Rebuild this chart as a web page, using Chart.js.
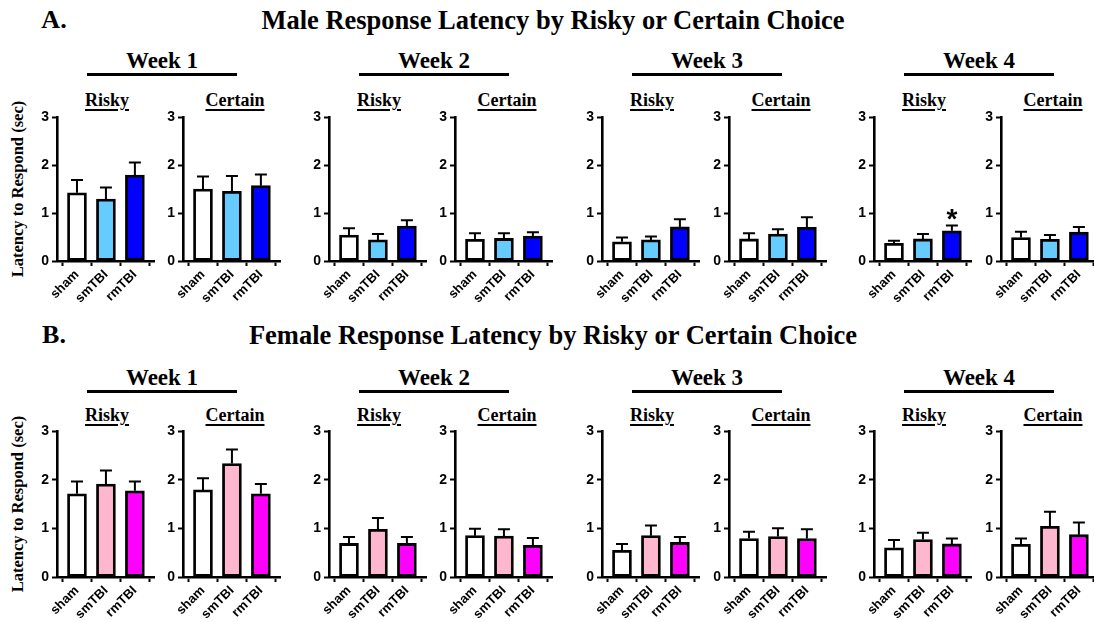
<!DOCTYPE html>
<html>
<head>
<meta charset="utf-8">
<script src="https://cdn.jsdelivr.net/npm/chart.js@4.4.0/dist/chart.umd.min.js"></script>
<style>
body { margin:0; width:1094px; height:622px; overflow:hidden; background:#fff; position:relative; font-family:'Liberation Serif', 'Times New Roman', serif; }
.t { position:absolute; font-weight:bold; color:#000; white-space:nowrap; transform:translate(-50%,-50%); line-height:1; }
.sub { text-decoration:underline; text-decoration-thickness:2px; text-underline-offset:3px; }
.bar { position:absolute; height:3px; background:#000; }
canvas { position:absolute; }
</style>
</head>
<body>
<script>
const groups = ['sham', 'smTBI', 'rmTBI']
const weeks = ['Week 1', 'Week 2', 'Week 3', 'Week 4']
const choices = ['Risky', 'Certain']

// mean latency per week, order: sham, smTBI, rmTBI
const maleRiskyMean = [[1.42, 1.29, 1.79], [0.54, 0.44, 0.73], [0.40, 0.44, 0.71], [0.37, 0.46, 0.63]]
const maleRiskySem = [[0.27, 0.24, 0.26], [0.14, 0.12, 0.12], [0.09, 0.07, 0.16], [0.05, 0.10, 0.11]]
const maleCertainMean = [[1.50, 1.45, 1.57], [0.45, 0.47, 0.52], [0.46, 0.56, 0.70], [0.49, 0.45, 0.60]]
const maleCertainSem = [[0.26, 0.32, 0.23], [0.13, 0.11, 0.08], [0.12, 0.10, 0.21], [0.12, 0.09, 0.11]]
const femaleRiskyMean = [[1.71, 1.91, 1.77], [0.69, 0.98, 0.69], [0.55, 0.85, 0.71], [0.60, 0.77, 0.68]]
const femaleRiskySem = [[0.25, 0.28, 0.19], [0.13, 0.23, 0.13], [0.13, 0.21, 0.11], [0.16, 0.14, 0.11]]
const femaleCertainMean = [[1.79, 2.33, 1.71], [0.85, 0.84, 0.65], [0.79, 0.83, 0.79], [0.67, 1.04, 0.87]]
const femaleCertainSem = [[0.24, 0.29, 0.20], [0.14, 0.14, 0.15], [0.14, 0.17, 0.19], [0.12, 0.30, 0.25]]
// significance marks (only male week 4 risky rmTBI)
const maleRiskySig = [['', '', ''], ['', '', ''], ['', '', ''], ['', '', '*']]
const noSig = ['', '', '']

const maleColors = ['#ffffff', '#66ccff', '#0000ff']
const femaleColors = ['#ffffff', '#ffb6cf', '#ff00ff']

// x position of each panel's y axis
const axisX = [57, 183, 329, 455, 602, 729, 874, 1001]
const weekX = [162, 434, 707, 979]

const sections = [
    { label: 'A.', title: 'Male Response Latency by Risky or Certain Choice', titleY: 20, weekY: 60, lineY: 74, choiceY: 100, top: 117, zero: 261,
      mean: [maleRiskyMean, maleCertainMean], sem: [maleRiskySem, maleCertainSem], sig: [maleRiskySig, null], colors: maleColors },
    { label: 'B.', title: 'Female Response Latency by Risky or Certain Choice', titleY: 335, weekY: 377, lineY: 391, choiceY: 415, top: 431, zero: 577,
      mean: [femaleRiskyMean, femaleCertainMean], sem: [femaleRiskySem, femaleCertainSem], sig: [null, null], colors: femaleColors }
]

const addText = (txt, x, y, size, cls, extra) => {
    const d = document.createElement('div')
    d.className = 't ' + (cls || '')
    d.textContent = txt
    d.style.left = x + 'px'
    d.style.top = y + 'px'
    d.style.fontSize = size + 'px'
    if (extra) d.style.transform = extra
    document.body.appendChild(d)
}

//error bars + stars
const errorBars = {
    id: 'errorBars',
    afterDatasetsDraw(chart, args, opts) {
        const ctx = chart.ctx
        const y = chart.scales.y
        const meta = chart.getDatasetMeta(0)
        ctx.save()
        ctx.strokeStyle = '#000'
        ctx.lineWidth = 2
        meta.data.forEach((bar, i) => {
            const base = y.getPixelForValue(opts.mean[i])
            const top = y.getPixelForValue(opts.mean[i] + opts.sem[i])
            ctx.beginPath()
            ctx.moveTo(bar.x, base)
            ctx.lineTo(bar.x, top)
            ctx.moveTo(bar.x - 6, top)
            ctx.lineTo(bar.x + 6, top)
            ctx.stroke()
            if (opts.sig[i]) {
                ctx.fillStyle = '#000'
                ctx.font = 'bold 28px "Liberation Sans", Arial, sans-serif'
                ctx.textAlign = 'center'
                ctx.textBaseline = 'alphabetic'
                ctx.fillText(opts.sig[i], bar.x, top + 3)
            }
        })
        ctx.restore()
    }
}

const tickFont = { family: '"Liberation Sans", Arial, sans-serif', weight: 'bold', size: 13 }

function makePanel(sec, idx, mean, sem, sig) {
    const plotH = sec.zero - sec.top
    const canvas = document.createElement('canvas')
    canvas.width = 126
    canvas.height = plotH + 10 + 56
    canvas.style.left = (axisX[idx] - 26) + 'px'
    canvas.style.top = (sec.top - 10) + 'px'
    document.body.appendChild(canvas)

    new Chart(canvas, {
        type: 'bar',
        data: {
            datasets: [{
                data: mean.map((v, i) => ({ x: i, y: v })),
                backgroundColor: sec.colors,
                borderColor: '#000',
                borderWidth: 2.8,
                borderSkipped: false,
                barThickness: 19
            }]
        },
        options: {
            responsive: false,
            animation: false,
            layout: { padding: { top: 10, left: 0, right: 3, bottom: 0 } },
            plugins: {
                legend: { display: false },
                tooltip: { enabled: false },
                errorBars: { mean: mean, sem: sem, sig: sig }
            },
            scales: {
                x: {
                    type: 'linear',
                    min: -0.69,
                    max: 2.66,
                    offset: false,
                    afterBuildTicks: s => { s.ticks = groups.map((g, i) => ({ value: i })) },
                    ticks: {
                        callback: v => groups[v],
                        minRotation: 45, maxRotation: 45, autoSkip: false,
                        font: tickFont, color: '#000', padding: 1
                    },
                    grid: { drawOnChartArea: false, drawTicks: true, tickLength: 5, tickWidth: 2, tickColor: '#000' },
                    border: { display: true, color: '#000', width: 2.6 },
                    afterFit: s => { s.height = 56; s.paddingLeft = 0; s.paddingRight = 0 }
                },
                y: {
                    min: 0,
                    max: 3,
                    ticks: { stepSize: 1, font: { ...tickFont, size: 14 }, color: '#000', padding: 3 },
                    grid: { drawOnChartArea: false, drawTicks: true, tickLength: 5, tickWidth: 2, tickColor: '#000' },
                    border: { display: true, color: '#000', width: 2.6 },
                    afterFit: s => { s.width = 26; s.paddingTop = 0; s.paddingBottom = 0 }
                }
            }
        },
        plugins: [errorBars]
    })
}

sections.forEach(sec => {
    addText(sec.label, 54, sec.titleY, 26)
    addText(sec.title, 553, sec.titleY, 26.5)
    addText('Latency to Respond (sec)', 18, (sec.top + sec.zero) / 2, 16.5, '', 'translate(-50%,-50%) rotate(-90deg)')
    weeks.forEach((w, wi) => {
        addText(w, weekX[wi], sec.weekY, 23)
        const line = document.createElement('div')
        line.className = 'bar'
        line.style.left = (weekX[wi] - 75) + 'px'
        line.style.width = '150px'
        line.style.top = (sec.lineY - 1) + 'px'
        document.body.appendChild(line)
        choices.forEach((c, ci) => {
            const idx = wi * 2 + ci
            addText(c, axisX[idx] + 50 + ci * 2, sec.choiceY, 18, 'sub')
            const sig = sec.sig[ci] ? sec.sig[ci][wi] : noSig
            makePanel(sec, idx, sec.mean[ci][wi], sec.sem[ci][wi], sig)
        })
    })
})
</script>
</body>
</html>
